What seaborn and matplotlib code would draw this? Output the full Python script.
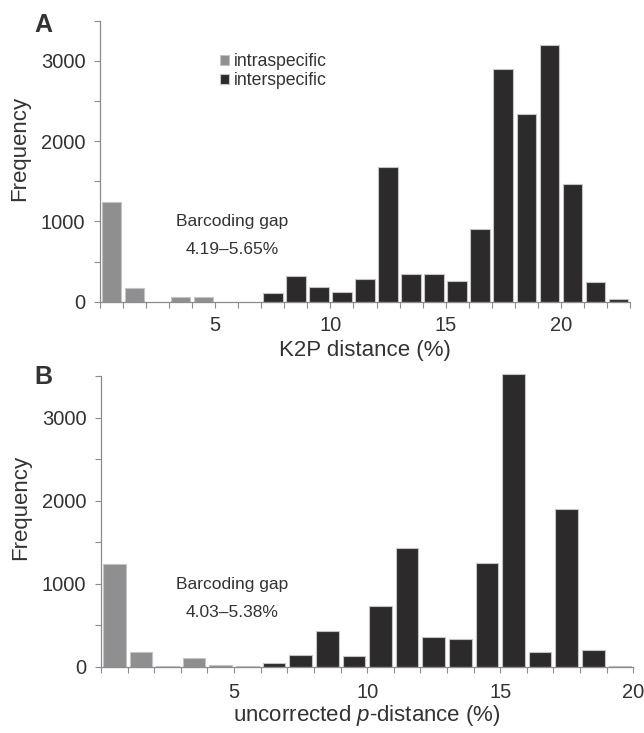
import numpy as np
import pandas as pd
import seaborn as sns
import matplotlib.pyplot as plt
from matplotlib.ticker import FixedLocator, MultipleLocator

# A: K2P distance, 1% bins (lower edge of bin)
k2p_intra_bins = [0, 1, 3, 4]
k2p_intra_freq = [1237, 167, 55, 55]
k2p_inter_bins = [7, 8, 9, 10, 11, 12, 13, 14, 15, 16, 17, 18, 19, 20, 21, 22]
k2p_inter_freq = [104, 321, 183, 121, 283, 1675, 342, 342, 255, 905, 2896, 2342, 3192, 1467, 242, 29]

# B: uncorrected p-distance, 1% bins
p_intra_bins = [0, 1, 2, 3, 4]
p_intra_freq = [1237, 173, 10, 101, 20]
p_inter_bins = [5, 6, 7, 8, 9, 10, 11, 12, 13, 14, 15, 16, 17, 18, 19]
p_inter_freq = [8, 48, 141, 430, 125, 727, 1426, 358, 334, 1253, 3525, 173, 1900, 197, 8]

groups = ["intraspecific", "interspecific"]
pal = {"intraspecific": "#8e8e92", "interspecific": "#2c2a2b"}

sns.set_style("ticks")
plt.rcParams["font.family"] = ["Liberation Sans", "DejaVu Sans"]
plt.rcParams["mathtext.fontset"] = "custom"
plt.rcParams["mathtext.rm"] = "Liberation Sans"
plt.rcParams["mathtext.it"] = "Liberation Sans:italic"
txt = "#333333"
axc = "#8c8c8c"
plt.rcParams.update({"text.color": txt, "axes.labelcolor": txt,
                     "xtick.color": axc, "ytick.color": axc,
                     "xtick.labelcolor": txt, "ytick.labelcolor": txt,
                     "axes.edgecolor": axc})


def make_df(ib, ifr, eb, efr):
    df = pd.DataFrame({"bin": ib + eb, "freq": ifr + efr,
                       "group": [groups[0]] * len(ib) + [groups[1]] * len(eb)})
    df["mid"] = df["bin"] + 0.5
    return df


def draw(ax, df, xmax, legend, xpad):
    sns.barplot(data=df, x="mid", y="freq", hue="group", hue_order=groups,
                palette=pal, native_scale=True, dodge=False, width=0.85,
                edgecolor="#c4c4c4", linewidth=0.8, errorbar=None,
                legend=legend, ax=ax)
    for p in ax.patches:
        p.set_clip_on(False)
    ax.set_xlim(0, xmax)
    ax.set_ylim(0, 3500)
    ax.xaxis.set_major_locator(FixedLocator([5, 10, 15, 20]))
    ax.xaxis.set_minor_locator(MultipleLocator(1))
    ax.yaxis.set_major_locator(FixedLocator([0, 1000, 2000, 3000]))
    ax.yaxis.set_minor_locator(MultipleLocator(500))
    ax.tick_params(which="both", length=4, width=0.8, direction="out")
    ax.tick_params(which="major", labelsize=14.5)
    ax.tick_params(axis="y", which="major", pad=6.5)
    ax.tick_params(axis="x", which="major", pad=xpad)
    sns.despine(ax=ax)
    for s in ("left", "bottom"):
        ax.spines[s].set_linewidth(0.9)


fig = plt.figure(figsize=(6.44, 7.33), dpi=100)
axA = fig.add_axes([100 / 644, 1 - 301.7 / 733, 530 / 644, 281 / 733])
axB = fig.add_axes([101 / 644, 1 - 666.7 / 733, 532.3 / 644, 290.7 / 733])

draw(axA, make_df(k2p_intra_bins, k2p_intra_freq, k2p_inter_bins, k2p_inter_freq), 23, True, 6.5)
draw(axB, make_df(p_intra_bins, p_intra_freq, p_inter_bins, p_inter_freq), 20, False, 8)

sns.move_legend(axA, "upper left", bbox_to_anchor=(0.2264, 0.885), frameon=False,
                title=None, fontsize=12.7, handlelength=0.52, handleheight=0.52,
                handletextpad=0.25, labelspacing=0.12, borderpad=0, borderaxespad=0)

axA.set_xlabel("K2P distance (%)", fontsize=16, va="center")
axA.xaxis.set_label_coords(0.5, -0.175)
axB.set_xlabel("uncorrected $p$-distance (%)", fontsize=16, va="center")
axB.xaxis.set_label_coords(0.5, -0.168)
for ax, yc in ((axA, 0.547), (axB, 0.548)):
    ax.set_ylabel("Frequency", fontsize=16, va="center")
    ax.yaxis.set_label_coords(-0.151, yc)

axA.text(5.73, 1000, "Barcoding gap", ha="center", va="center", fontsize=12.5)
axA.text(5.73, 655, "4.19\u20135.65%", ha="center", va="center", fontsize=12.5)
axB.text(4.92, 984, "Barcoding gap", ha="center", va="center", fontsize=12.5)
axB.text(4.92, 650, "4.03\u20135.38%", ha="center", va="center", fontsize=12.5)

fig.text(43 / 644, 1 - 25 / 733, "A", ha="center", va="center", fontsize=18, fontweight="bold")
fig.text(43 / 644, 1 - 377 / 733, "B", ha="center", va="center", fontsize=18, fontweight="bold")

fig.savefig("out.png", dpi=100)
